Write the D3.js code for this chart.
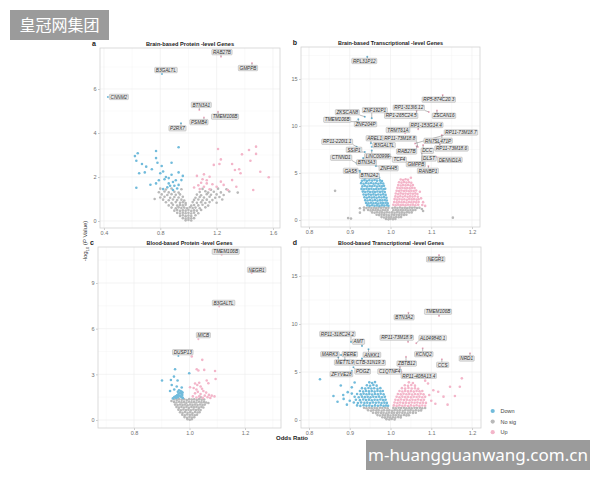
<!DOCTYPE html>
<html>
<head>
<meta charset="utf-8">
<script src="https://cdn.jsdelivr.net/npm/d3@7"></script>
<style>
  body { margin: 0; background: #fff; }
  svg { display: block; font-family: 'Liberation Sans', Arial, sans-serif; }
</style>
</head>
<body>
<div id="viz"></div>
<script>
const width = 600;
const height = 480;
const colorDown = '#71bbdb';
const colorNoSig = '#b9b9b9';
const colorUp = '#f3b5c9';
const dotRadius = 1.3;

// ---------- data : [odds ratio, -log10 p] ----------

// a. Brain-based Protein-level
const downA = [[0.64,3.08],[0.77,3.18],[0.93,3.35],[0.63,2.74],[0.67,2.59],[0.78,2.65],[0.88,2.65],[0.70,2.47],[0.74,2.35],[0.81,2.50],[0.65,2.17],[0.69,2.21],[0.80,2.17],[0.82,2.25],[0.93,2.21],[0.96,2.05],[0.63,1.51],[0.73,1.65],[0.77,1.71],[0.83,1.90],[0.86,1.71],[0.89,1.77],[0.85,1.53],[0.89,1.41],[0.93,1.64],[0.95,1.86],[0.62,2.95],[0.77,2.86],[0.87,1.60],[0.84,2.00],[0.88,2.10],[0.91,1.85],[0.92,1.48],[0.82,1.45],[0.86,1.95],[0.90,1.60],[0.79,1.85]];
const upA = [[1.21,3.27],[1.48,3.38],[1.43,3.23],[1.48,3.05],[1.38,3.03],[1.23,2.80],[1.22,2.59],[1.31,2.59],[1.36,2.35],[1.44,2.74],[1.18,2.55],[1.51,2.24],[1.57,1.99],[1.37,2.17],[1.33,2.32],[1.06,2.05],[1.11,2.12],[1.15,2.01],[1.09,1.74],[1.13,1.71],[1.17,1.67],[1.20,1.56],[1.11,1.56],[1.08,1.45],[1.15,1.44],[1.23,1.79],[1.25,1.64],[1.31,1.86],[1.34,1.56],[1.28,1.41],[1.46,1.41],[1.10,1.90],[1.07,1.62],[1.13,1.85],[1.04,1.52]];
const nosigA = [[0.80,1.47],[0.84,1.43],[0.88,1.48],[0.95,1.44],[1.10,1.46],[1.16,1.42],[1.21,1.47],[1.27,1.44],
  [0.79,1.31],[0.83,1.34],[0.86,1.30],[0.90,1.33],[0.93,1.29],[1.08,1.32],[1.12,1.35],[1.14,1.29],[1.18,1.33],[1.23,1.30],[1.29,1.34],
  [0.81,1.21],[0.85,1.18],[0.88,1.22],[0.91,1.19],[0.94,1.21],[1.06,1.20],[1.09,1.17],[1.13,1.22],[1.16,1.19],[1.20,1.21],[1.25,1.18],
  [0.80,1.07],[0.83,1.10],[0.87,1.06],[0.90,1.09],[0.93,1.07],[0.96,1.10],[1.05,1.06],[1.08,1.09],[1.11,1.07],[1.15,1.10],[1.19,1.06],[1.22,1.09],
  [0.82,0.97],[0.86,0.94],[0.89,0.98],[0.92,0.95],[0.95,0.97],[0.97,0.93],[1.04,0.96],[1.07,0.98],[1.10,0.94],[1.13,0.97],[1.17,0.95],[1.24,0.98],
  [0.84,0.85],[0.88,0.82],[0.91,0.86],[0.94,0.83],[0.96,0.85],[0.98,0.82],[1.03,0.86],[1.06,0.83],[1.09,0.85],[1.12,0.82],[1.15,0.86],[1.20,0.83],
  [0.86,0.71],[0.89,0.74],[0.92,0.70],[0.94,0.73],[0.96,0.71],[0.98,0.74],[1.02,0.70],[1.04,0.73],[1.07,0.71],[1.10,0.74],[1.14,0.70],
  [0.88,0.61],[0.91,0.58],[0.93,0.62],[0.95,0.59],[0.97,0.61],[0.99,0.58],[1.01,0.62],[1.03,0.59],[1.05,0.61],[1.08,0.58],[1.12,0.62],
  [0.90,0.47],[0.92,0.50],[0.94,0.46],[0.96,0.49],[0.98,0.47],[1.00,0.50],[1.02,0.46],[1.04,0.49],[1.06,0.47],[1.09,0.50],
  [0.92,0.37],[0.94,0.34],[0.96,0.38],[0.98,0.35],[1.00,0.37],[1.02,0.34],[1.04,0.38],[1.07,0.35],
  [0.94,0.23],[0.96,0.26],[0.98,0.22],[1.00,0.25],[1.02,0.23],[1.05,0.26],
  [0.96,0.13],[0.98,0.11],[1.00,0.14],[1.02,0.12],[1.04,0.13],
  [0.98,0.03],[1.00,0.05],[1.02,0.02],[1.35,1.29],[0.76,1.00]];
const labelsA = [['RAB27B',1.231,7.47],['GMPPB',1.451,7.18],['B3GALTL',0.812,6.68],['CNNM2',0.428,5.64],['BTN3A1',1.077,5.05],['PSMB4',1.110,4.70],['TMEM106B',1.210,4.97],['P2RX7',0.947,4.44]];

// b. Brain-based Transcriptional-level
const downB = [[0.932,4.52],[0.938,4.45],[0.945,4.55],[0.951,4.47],[0.958,4.53],[0.966,4.44],[0.972,4.50],
  [0.930,4.18],[0.936,4.24],[0.942,4.16],[0.948,4.22],[0.955,4.19],[0.961,4.25],[0.967,4.17],[0.974,4.21],[0.979,4.15],
  [0.928,3.92],[0.934,3.86],[0.940,3.93],[0.946,3.88],[0.952,3.94],[0.958,3.87],[0.964,3.91],[0.970,3.85],[0.976,3.92],[0.982,3.88],
  [0.931,3.58],[0.937,3.63],[0.943,3.57],[0.949,3.62],[0.955,3.59],[0.961,3.64],[0.967,3.56],[0.973,3.61],[0.979,3.58],[0.984,3.63],
  [0.929,3.31],[0.935,3.27],[0.941,3.33],[0.947,3.28],[0.953,3.32],[0.959,3.26],[0.965,3.31],[0.971,3.29],[0.977,3.34],[0.983,3.27],[0.987,3.32],
  [0.932,3.02],[0.938,2.97],[0.944,3.03],[0.950,2.98],[0.956,3.01],[0.962,2.96],[0.968,3.03],[0.974,2.99],[0.980,3.02],[0.986,2.97],
  [0.934,2.71],[0.940,2.67],[0.946,2.73],[0.952,2.68],[0.958,2.72],[0.964,2.66],[0.970,2.71],[0.976,2.69],[0.982,2.73],[0.988,2.67],
  [0.936,2.42],[0.942,2.37],[0.948,2.43],[0.954,2.38],[0.960,2.41],[0.966,2.36],[0.972,2.42],[0.978,2.39],[0.984,2.43],[0.990,2.37],
  [0.938,2.11],[0.944,2.07],[0.950,2.13],[0.956,2.08],[0.962,2.12],[0.968,2.06],[0.974,2.11],[0.980,2.09],[0.986,2.13],[0.991,2.07],
  [0.940,1.82],[0.946,1.77],[0.952,1.83],[0.958,1.78],[0.964,1.81],[0.970,1.76],[0.976,1.82],[0.982,1.79],[0.988,1.83],[0.993,1.77],
  [0.943,1.56],[0.949,1.51],[0.955,1.57],[0.961,1.52],[0.967,1.55],[0.973,1.50],[0.979,1.56],[0.985,1.53],[0.991,1.57],[0.995,1.51],
  [0.940,4.78],[0.953,4.82],[0.961,4.75]];
const upB = [[1.025,4.31],[1.031,4.26],[1.037,4.33],[1.043,4.28],
  [1.021,4.02],[1.027,3.97],[1.033,4.03],[1.039,3.98],[1.045,4.01],[1.051,3.96],
  [1.019,3.71],[1.025,3.67],[1.031,3.73],[1.037,3.68],[1.043,3.72],[1.049,3.66],[1.055,3.71],
  [1.017,3.42],[1.023,3.37],[1.029,3.43],[1.035,3.38],[1.041,3.41],[1.047,3.36],[1.053,3.42],[1.059,3.39],
  [1.015,3.11],[1.021,3.07],[1.027,3.13],[1.033,3.08],[1.039,3.12],[1.045,3.06],[1.051,3.11],[1.057,3.09],[1.063,3.13],
  [1.013,2.82],[1.019,2.77],[1.025,2.83],[1.031,2.78],[1.037,2.81],[1.043,2.76],[1.049,2.82],[1.055,2.79],[1.061,2.83],[1.066,2.77],
  [1.012,2.51],[1.018,2.47],[1.024,2.53],[1.030,2.48],[1.036,2.52],[1.042,2.46],[1.048,2.51],[1.054,2.49],[1.060,2.53],[1.067,2.47],
  [1.010,2.22],[1.016,2.17],[1.022,2.23],[1.028,2.18],[1.034,2.21],[1.040,2.16],[1.046,2.22],[1.052,2.19],[1.058,2.23],[1.064,2.17],[1.069,2.21],
  [1.009,1.91],[1.015,1.87],[1.021,1.93],[1.027,1.88],[1.033,1.92],[1.039,1.86],[1.045,1.91],[1.051,1.89],[1.057,1.93],[1.063,1.87],[1.069,1.92],
  [1.007,1.62],[1.013,1.57],[1.019,1.63],[1.025,1.58],[1.031,1.61],[1.037,1.56],[1.043,1.62],[1.049,1.59],[1.055,1.63],[1.061,1.57],[1.068,1.61],
  [1.075,2.30],[1.080,1.90],[1.072,3.00],[1.078,1.60],[1.050,4.50],[1.085,1.50]];
const nosigB = [[0.935,1.32],[0.941,1.27],[0.947,1.33],[0.953,1.28],[0.959,1.31],[0.965,1.26],[0.971,1.32],[0.977,1.29],[0.983,1.33],[0.989,1.27],[0.995,1.31],[1.005,1.28],[1.011,1.32],[1.017,1.27],[1.023,1.33],[1.029,1.28],[1.035,1.31],[1.041,1.26],[1.047,1.32],[1.053,1.29],[1.059,1.33],[1.065,1.27],[1.071,1.31],
  [0.945,1.06],[0.951,1.02],[0.957,1.07],[0.963,1.03],[0.969,1.06],[0.975,1.01],[0.981,1.07],[0.987,1.04],[0.993,1.06],[1.007,1.03],[1.013,1.07],[1.019,1.02],[1.025,1.06],[1.031,1.03],[1.037,1.07],[1.043,1.01],[1.049,1.06],[1.055,1.04],[1.061,1.07],
  [0.955,0.81],[0.961,0.77],[0.967,0.82],[0.973,0.78],[0.979,0.81],[0.985,0.76],[0.991,0.82],[0.997,0.79],[1.004,0.81],[1.010,0.77],[1.016,0.82],[1.022,0.78],[1.028,0.81],[1.034,0.76],[1.040,0.82],[1.046,0.79],[1.052,0.81],
  [0.966,0.56],[0.972,0.52],[0.978,0.57],[0.984,0.53],[0.990,0.56],[0.996,0.51],[1.003,0.57],[1.009,0.54],[1.015,0.56],[1.021,0.52],[1.027,0.57],[1.033,0.53],[1.039,0.55],
  [0.978,0.31],[0.984,0.27],[0.990,0.32],[0.996,0.28],[1.002,0.31],[1.008,0.27],[1.014,0.32],[1.020,0.29],[1.026,0.31],
  [0.989,0.11],[0.995,0.07],[1.000,0.12],[1.006,0.08],[1.012,0.10],
  [0.864,3.10],[0.896,0.20],[0.903,0.15],[1.153,0.25],[0.925,0.78],[1.077,1.17],[0.925,1.25],[1.080,0.95],[0.935,1.05]];
const labelsB = [['RPL31P12',0.943,17.37],['RP5-874C20.3',1.128,13.30],['RP1-313I6.12',1.094,11.49],['ZSCAN16',1.114,11.65],['RP1-265C24.5',1.064,11.63],['ZKSCAN8',0.937,10.99],['ZNF192P1',0.954,10.82],['TMEM106B',0.917,10.46],['ZNF204P',0.921,10.71],['RP1-153G14.4',1.068,9.65],['TRMT61A',1.036,9.22],['RP11-73M18.7',1.060,8.14],['AREL1',0.952,8.16],['RP11-73M18.8',1.067,7.77],['RN7SL471P',1.126,9.04],['RP11-220I1.1',0.917,7.80],['B3GALTL',0.954,7.80],['SSIP1',0.937,7.23],['RAB27B',1.064,7.87],['DCC',1.080,7.98],['RP11-73M18.6',1.121,8.09],['LINC00999',0.954,7.39],['CTNND1',0.917,6.03],['TCF4',0.991,6.81],['DLST',1.111,6.67],['DENND1A',1.113,6.73],['BTN3A3',0.933,6.60],['GMPPB',1.077,7.16],['ZNF445',0.964,5.74],['GAS5',0.925,5.24],['RANBP1',1.093,5.74],['BTN2A2',0.925,5.11]];

// c. Blood-based Protein-level
const downC = [[0.962,1.95],[0.968,1.90],[0.972,1.85],[0.975,1.80],[0.958,1.85],[0.965,1.78],[0.970,1.72],[0.974,1.65],[0.960,1.70],[0.955,1.62],[0.963,1.60],[0.968,1.55],[0.950,1.55],[0.958,1.50],[0.945,1.50],[0.952,1.45],[0.940,1.42],[0.972,1.50],[0.976,1.45],
  [0.901,2.59],[0.933,2.63],[0.957,2.59],[0.936,2.30],[0.954,2.20],[0.948,3.33],[0.972,2.13],[0.930,1.90],[0.945,2.00],[0.999,3.07],[0.944,2.85]];
const upC = [[1.020,2.40],[1.028,2.30],[1.035,2.45],[1.040,2.20],[1.015,2.10],[1.025,2.00],[1.045,2.05],[1.050,1.90],[1.030,1.85],[1.060,1.80],[1.020,1.75],[1.040,1.70],[1.070,1.65],[1.055,1.60],[1.080,1.60],[1.012,1.55],[1.035,1.55],[1.065,1.50],[1.090,1.55],[1.025,1.48],[1.048,1.45],[1.075,1.45],
  [1.008,4.17],[1.046,3.95],[1.026,3.33],[1.032,3.25],[1.053,3.29],[1.092,3.22],[1.094,2.69],[1.062,2.59],[1.068,2.41],[1.002,2.15]];
const nosigC = [[0.945,1.36],[0.954,1.32],[0.963,1.37],[0.972,1.33],[0.981,1.36],[0.990,1.31],[0.999,1.37],[1.008,1.34],[1.017,1.36],[1.026,1.32],[1.035,1.37],[1.044,1.33],[1.053,1.35],
  [0.944,1.19],[0.953,1.15],[0.962,1.20],[0.971,1.16],[0.980,1.19],[0.989,1.14],[0.998,1.20],[1.007,1.17],[1.016,1.19],[1.025,1.15],[1.034,1.20],[1.043,1.16],[1.052,1.19],[1.060,1.15],
  [0.948,1.01],[0.957,0.98],[0.966,1.02],[0.975,0.99],[0.984,1.01],[0.993,0.97],[1.002,1.02],[1.011,0.99],[1.020,1.01],[1.029,0.98],[1.038,1.02],[1.047,0.99],[1.055,1.01],
  [0.953,0.85],[0.962,0.81],[0.971,0.86],[0.980,0.82],[0.989,0.85],[0.998,0.80],[1.007,0.86],[1.016,0.83],[1.025,0.85],[1.034,0.81],[1.043,0.86],[1.050,0.82],
  [0.960,0.68],[0.969,0.64],[0.978,0.69],[0.987,0.65],[0.996,0.68],[1.005,0.63],[1.014,0.69],[1.023,0.66],[1.032,0.68],[1.040,0.65],
  [0.966,0.51],[0.975,0.47],[0.984,0.52],[0.993,0.48],[1.002,0.51],[1.011,0.46],[1.020,0.52],[1.029,0.49],[1.036,0.51],
  [0.974,0.35],[0.983,0.31],[0.992,0.36],[1.001,0.32],[1.010,0.35],[1.019,0.31],[1.027,0.34],
  [0.982,0.19],[0.991,0.15],[1.000,0.20],[1.009,0.16],[1.017,0.18],
  [0.993,0.05],[1.001,0.02],[1.008,0.05],[0.935,1.25],[1.068,1.12],[0.958,1.48],[1.040,1.50]];
const labelsC = [['TMEM106B',1.116,10.86],['NEGR1',1.224,9.65],['B3GALTL',1.107,7.45],['MICB',1.032,5.31],['DUSP13',0.960,4.21]];

// d. Blood-based Transcriptional-level
const downD = [[0.948,3.92],[0.955,3.85],[0.962,3.95],
  [0.942,3.62],[0.950,3.57],[0.958,3.64],[0.966,3.58],
  [0.930,3.32],[0.938,3.27],[0.946,3.33],[0.953,3.28],[0.960,3.31],[0.968,3.26],[0.975,3.32],
  [0.925,3.02],[0.933,2.97],[0.940,3.03],[0.947,2.98],[0.954,3.01],[0.961,2.96],[0.968,3.03],[0.975,2.99],[0.981,3.02],
  [0.918,2.71],[0.927,2.67],[0.934,2.73],[0.941,2.68],[0.948,2.72],[0.955,2.66],[0.962,2.71],[0.969,2.69],[0.976,2.73],[0.983,2.67],
  [0.912,2.42],[0.922,2.37],[0.930,2.43],[0.937,2.38],[0.944,2.41],[0.951,2.36],[0.958,2.42],[0.965,2.39],[0.972,2.43],[0.979,2.37],[0.986,2.41],
  [0.915,2.11],[0.925,2.07],[0.933,2.13],[0.940,2.08],[0.947,2.12],[0.954,2.06],[0.961,2.11],[0.968,2.09],[0.975,2.13],[0.982,2.07],[0.988,2.11],
  [0.910,1.82],[0.920,1.77],[0.928,1.83],[0.936,1.78],[0.943,1.81],[0.950,1.76],[0.957,1.82],[0.964,1.79],[0.971,1.83],[0.978,1.77],[0.985,1.81],[0.991,1.78],
  [0.918,1.52],[0.926,1.47],[0.934,1.53],[0.941,1.48],[0.948,1.51],[0.955,1.46],[0.962,1.52],[0.969,1.49],[0.976,1.53],[0.983,1.47],[0.989,1.51],[0.994,1.48],
  [0.895,2.90],[0.885,2.20],[0.878,3.60],[0.884,2.60],[0.905,3.40],[0.870,1.90],[0.893,1.60],[0.900,2.00],[0.827,4.24],[0.912,3.90],[0.860,2.50],[0.905,2.75]];
const upD = [[1.045,3.92],[1.055,3.86],
  [1.035,3.62],[1.043,3.57],[1.051,3.64],[1.060,3.58],
  [1.028,3.32],[1.036,3.27],[1.044,3.33],[1.052,3.28],[1.060,3.31],[1.068,3.26],
  [1.022,3.02],[1.029,2.97],[1.036,3.03],[1.043,2.98],[1.050,3.01],[1.057,2.96],[1.064,3.03],[1.071,2.99],[1.078,3.02],
  [1.018,2.71],[1.025,2.67],[1.032,2.73],[1.039,2.68],[1.046,2.72],[1.053,2.66],[1.060,2.71],[1.067,2.69],[1.074,2.73],[1.081,2.67],
  [1.015,2.42],[1.022,2.37],[1.029,2.43],[1.036,2.38],[1.043,2.41],[1.050,2.36],[1.057,2.42],[1.064,2.39],[1.071,2.43],[1.078,2.37],[1.085,2.41],
  [1.012,2.11],[1.019,2.07],[1.026,2.13],[1.033,2.08],[1.040,2.12],[1.047,2.06],[1.054,2.11],[1.061,2.09],[1.068,2.13],[1.075,2.07],[1.082,2.11],
  [1.010,1.82],[1.017,1.77],[1.024,1.83],[1.031,1.78],[1.038,1.81],[1.045,1.76],[1.052,1.82],[1.059,1.79],[1.066,1.83],[1.073,1.77],[1.080,1.81],[1.087,1.78],
  [1.008,1.52],[1.015,1.47],[1.022,1.53],[1.029,1.48],[1.036,1.51],[1.043,1.46],[1.050,1.52],[1.057,1.49],[1.064,1.53],[1.071,1.47],[1.078,1.51],[1.085,1.48],
  [1.095,2.60],[1.100,2.00],[1.105,3.10],[1.117,2.95],[1.130,2.43],[1.146,3.47],[1.158,2.50],[1.170,3.47],[1.175,4.34],[1.092,3.80],[1.110,1.70],[1.140,1.60],[1.085,4.10]];
const nosigD = [[0.935,1.27],[0.941,1.22],[0.948,1.28],[0.954,1.23],[0.961,1.26],[0.967,1.21],[0.974,1.27],[0.980,1.24],[0.987,1.28],[0.993,1.22],[1.007,1.26],[1.013,1.21],[1.020,1.27],[1.026,1.24],[1.033,1.28],[1.039,1.22],[1.046,1.26],[1.052,1.21],[1.059,1.27],[1.065,1.24],[1.072,1.28],[1.078,1.22],[1.085,1.25],
  [0.945,1.01],[0.952,0.97],[0.958,1.02],[0.965,0.98],[0.971,1.01],[0.978,0.96],[0.984,1.02],[0.991,0.99],[0.997,1.01],[1.004,0.97],[1.010,1.02],[1.017,0.98],[1.023,1.01],[1.030,0.96],[1.036,1.02],[1.043,0.99],[1.049,1.01],[1.056,0.97],[1.062,1.02],[1.069,0.98],[1.075,1.00],
  [0.957,0.76],[0.964,0.72],[0.970,0.77],[0.977,0.73],[0.983,0.76],[0.990,0.71],[0.996,0.77],[1.003,0.74],[1.009,0.76],[1.016,0.72],[1.022,0.77],[1.029,0.73],[1.035,0.76],[1.042,0.71],[1.048,0.77],[1.055,0.74],[1.062,0.75],
  [0.968,0.51],[0.974,0.47],[0.981,0.52],[0.987,0.48],[0.994,0.51],[1.000,0.46],[1.007,0.52],[1.013,0.49],[1.020,0.51],[1.026,0.47],[1.033,0.52],[1.039,0.48],[1.045,0.50],
  [0.980,0.29],[0.986,0.25],[0.993,0.30],[0.999,0.26],[1.006,0.29],[1.012,0.25],[1.019,0.30],[1.025,0.27],
  [0.990,0.09],[0.997,0.05],[1.003,0.10],[1.010,0.06]];
const labelsD = [['NEGR1',1.119,17.19],['TMEM106B',1.119,10.83],['BTN3A2',1.044,11.18],['RP11-318C24.2',0.903,8.13],['AMT',0.930,7.71],['RP11-73M18.9',1.043,8.13],['AL049840.1',1.063,7.99],['MARK3',0.879,6.77],['RERE',0.888,6.25],['ANKK1',0.946,7.36],['KCNQ2',1.079,7.47],['NRD1',1.195,6.95],['METTL9',0.872,6.53],['CTB-31N19.3',0.930,6.41],['ZBTB12',1.038,6.59],['CCS',1.126,6.32],['POGZ',0.909,5.49],['C1QTNF4',1.023,5.55],['ZFYVE28',0.905,5.14],['RP11-408A13.4',1.027,5.03]];

// label box offsets from their point (px), the way ggrepel placed them
const nudgeA = {RAB27B:[1,-4.5], GMPPB:[-4,5], B3GALTL:[4,-4], CNNM2:[11,0], BTN3A1:[2,-5], PSMB4:[-5,4.5], TMEM106B:[7,5], P2RX7:[-3.5,5]};
const nudgeB = {'RPL31P12':[-3,4.3], 'RP5-874C20.3':[-3.9,4.7], 'RP1-313I6.12':[-20,-4.3], 'ZSCAN16':[7,5.3], 'RP1-265C24.5':[-15.4,5.1],
  'ZKSCAN8':[-17.5,-4.4], 'ZNF192P1':[3.1,-8.1], 'TMEM106B':[-19.5,-1.9], 'ZNF204P':[7.2,4.9], 'RP1-153G14.4':[8,-4.3],
  'TRMT61A':[-7.2,-3.3], 'RP11-73M18.7':[46,-11], 'AREL1':[3.7,-5], 'RP11-73M18.8':[-18,-8.5], 'RN7SL471P':[-3.7,5.8],
  'RP11-220I1.1':[-19.5,-4.9], 'B3GALTL':[12.3,-1.5], 'SSIP1':[-10.8,-2.2], 'RAB27B':[-10,5.5], 'DCC':[4.2,5.8],
  'RP11-73M18.6':[11.7,4.5], 'LINC00999':[5.8,5.8], 'CTNND1':[-15.5,-5.6], 'TCF4':[12.5,3.7], 'DLST':[-6.7,1.2],
  'DENND1A':[13.3,3.1], 'BTN3A3':[3.3,4.5], 'GMPPB':[-6,11.5], 'ZNF445':[12.8,2.2], 'GAS5':[-9.2,0.1],
  'RANBP1':[-0.5,4.8], 'BTN2A2':[9.5,3.8]};
const nudgeC = {TMEM106B:[4,-3], NEGR1:[5,-3.3], B3GALTL:[4.4,-3.7], MICB:[5,-4], DUSP13:[4.4,-3.7]};
const nudgeD = {'NEGR1':[-3.3,4.3], 'TMEM106B':[-1,-4.3], 'BTN3A2':[-4.3,4.6], 'RP11-318C24.2':[-13.5,-8], 'AMT':[-3.5,-4.3],
  'RP11-73M18.9':[-11.3,-4.3], 'AL049840.1':[16.5,-5.3], 'MARK3':[-11.3,-0.8], 'RERE':[5,-5.8], 'ANKK1':[3.4,5.5],
  'KCNQ2':[1.1,5.9], 'NRD1':[-3.3,5.2], 'METTL9':[6.2,5.2], 'CTB-31N19.3':[8,4.3], 'ZBTB12':[0.7,6.8],
  'CCS':[0.8,5.5], 'POGZ':[9.2,4.2], 'C1QTNF4':[-10.3,4.8], 'ZFYVE28':[-10.4,3.5], 'RP11-408A13.4':[17.3,4.1]};

const legendItems = ['Down', 'No sig', 'Up'];
const legendColors = [colorDown, colorNoSig, colorUp];

const panels = [
  {id: 'a', title: 'Brain-based Protein -level Genes', titleLen: 88, box: [100, 48, 280, 228],
   xDomain: [0.372, 1.650], yDomain: [-0.318, 7.864], xTicks: [0.4, 0.8, 1.2, 1.6], yTicks: [0, 2, 4, 6],
   down: downA, nosig: nosigA, up: upA, labels: labelsA, nudge: nudgeA},
  {id: 'b', title: 'Brain-based Transcriptional -level Genes', titleLen: 105, box: [301, 47, 480, 227],
   xDomain: [0.7804, 1.2196], yDomain: [-0.745, 18.40], xTicks: [0.8, 0.9, 1.0, 1.1, 1.2], yTicks: [0, 5, 10, 15],
   down: downB, nosig: nosigB, up: upB, labels: labelsB, nudge: nudgeB},
  {id: 'c', title: 'Blood-based Protein -level Genes', titleLen: 86, box: [98, 247, 281, 428],
   xDomain: [0.6703, 1.3297], yDomain: [-0.526, 11.365], xTicks: [0.8, 1.0, 1.2], yTicks: [0, 3, 6, 9],
   down: downC, nosig: nosigC, up: upC, labels: labelsC, nudge: nudgeC},
  {id: 'd', title: 'Blood-based Transcriptional -level Genes', titleLen: 106, box: [301, 247, 481, 428],
   xDomain: [0.7804, 1.222], yDomain: [-0.833, 18.02], xTicks: [0.8, 0.9, 1.0, 1.1, 1.2], yTicks: [0, 5, 10, 15],
   down: downD, nosig: nosigD, up: upD, labels: labelsD, nudge: nudgeD}
];

const svg = d3.select('#viz')
  .append('svg')
    .attr('width', width)
    .attr('height', height)
    .attr('viewBox', [0, 0, width, height]);

svg.append('rect')
    .attr('width', width)
    .attr('height', height)
    .attr('fill', '#fff');

const minorOf = (ticks, domain) => {
  const step = ticks[1] - ticks[0];
  return d3.range(ticks[0] - step / 2, domain[1], step).filter(v => v > domain[0]);
};

const drawPanel = (p) => {
  const [x0, y0, x1, y1] = p.box;
  const xScale = d3.scaleLinear().domain(p.xDomain).range([x0, x1]);
  const yScale = d3.scaleLinear().domain(p.yDomain).range([y1, y0]);
  const g = svg.append('g').attr('class', `panel panel-${p.id}`);

  // grid
  g.append('g')
    .selectAll('line')
    .data(minorOf(p.xTicks, p.xDomain))
    .join('line')
      .attr('x1', d => xScale(d)).attr('x2', d => xScale(d))
      .attr('y1', y0).attr('y2', y1)
      .attr('stroke', '#f5f5f5').attr('stroke-width', 0.5);
  g.append('g')
    .selectAll('line')
    .data(minorOf(p.yTicks, p.yDomain))
    .join('line')
      .attr('x1', x0).attr('x2', x1)
      .attr('y1', d => yScale(d)).attr('y2', d => yScale(d))
      .attr('stroke', '#f5f5f5').attr('stroke-width', 0.5);
  g.append('g')
    .selectAll('line')
    .data(p.xTicks)
    .join('line')
      .attr('x1', d => xScale(d)).attr('x2', d => xScale(d))
      .attr('y1', y0).attr('y2', y1)
      .attr('stroke', '#ececec').attr('stroke-width', 0.6);
  g.append('g')
    .selectAll('line')
    .data(p.yTicks)
    .join('line')
      .attr('x1', x0).attr('x2', x1)
      .attr('y1', d => yScale(d)).attr('y2', d => yScale(d))
      .attr('stroke', '#ececec').attr('stroke-width', 0.6);

  // axes
  const xAxis = d3.axisBottom(xScale).tickValues(p.xTicks).tickFormat(d3.format('.1f')).tickSize(2).tickPadding(1.5);
  const yAxis = d3.axisLeft(yScale).tickValues(p.yTicks).tickFormat(d3.format('d')).tickSize(2).tickPadding(1.5);
  [g.append('g').attr('transform', `translate(0, ${y1})`).call(xAxis),
   g.append('g').attr('transform', `translate(${x0}, 0)`).call(yAxis)].forEach(ax => {
    ax.select('.domain').remove();
    ax.selectAll('line').attr('stroke', '#9a9a9a').attr('stroke-width', 0.5);
    ax.selectAll('text')
      .attr('fill', '#707070')
      .style('font-size', '5.5px')
      .style('font-family', "'Liberation Sans', Arial, sans-serif");
  });

  // points
  const groups = [
    {cls: 'nosig', data: p.nosig, color: colorNoSig},
    {cls: 'down', data: p.down, color: colorDown},
    {cls: 'up', data: p.up, color: colorUp}
  ];
  groups.forEach(grp => {
    g.append('g')
        .attr('class', `dots dots-${grp.cls}`)
      .selectAll('circle')
      .data(grp.data)
      .join('circle')
        .attr('cx', d => xScale(d[0]))
        .attr('cy', d => yScale(d[1]))
        .attr('r', dotRadius)
        .attr('fill', grp.color);
  });

  // labelled genes
  const lab = g.append('g').attr('class', 'gene-labels');
  lab.selectAll('circle')
    .data(p.labels)
    .join('circle')
      .attr('cx', d => xScale(d[1]))
      .attr('cy', d => yScale(d[2]))
      .attr('r', 1)
      .attr('fill', d => d[1] < 1 ? colorDown : colorUp);

  p.labels.forEach(d => {
    const px = xScale(d[1]);
    const py = yScale(d[2]);
    const [dx, dy] = p.nudge[d[0]] || [0, -5];
    const cx = px + dx;
    const cy = py + dy;
    const lg = lab.append('g');
    const seg = lg.append('line');
    const rect = lg.append('rect');
    const txt = lg.append('text')
        .attr('x', cx)
        .attr('y', cy + 1.7)
        .attr('text-anchor', 'middle')
        .attr('fill', '#333')
        .style('font-size', '4.7px')
        .style('font-style', 'italic')
        .text(d[0]);
    const w = txt.node().getComputedTextLength() + 2.4;
    const h = 5.4;
    const bx0 = cx - w / 2, by0 = cy - h / 2;
    rect
        .attr('x', bx0).attr('y', by0)
        .attr('width', w).attr('height', h)
        .attr('rx', 0.8)
        .attr('fill', '#e6e6e6')
        .attr('stroke', '#8f8f8f')
        .attr('stroke-width', 0.35);
    const ex = Math.max(bx0, Math.min(px, bx0 + w));
    const ey = Math.max(by0, Math.min(py, by0 + h));
    if (Math.hypot(ex - px, ey - py) > 1.5) {
      seg
          .attr('x1', px).attr('y1', py)
          .attr('x2', ex).attr('y2', ey)
          .attr('stroke', '#555')
          .attr('stroke-width', 0.4);
    } else {
      seg.remove();
    }
  });

  // frame
  g.append('rect')
      .attr('x', x0).attr('y', y0)
      .attr('width', x1 - x0).attr('height', y1 - y0)
      .attr('fill', 'none')
      .attr('stroke', '#d2d2d2')
      .attr('stroke-width', 0.8);

  // title + letter
  g.append('text')
      .attr('x', (x0 + x1) / 2)
      .attr('y', y0 - 2.5)
      .attr('text-anchor', 'middle')
      .attr('textLength', p.titleLen)
      .attr('lengthAdjust', 'spacingAndGlyphs')
      .attr('fill', '#222')
      .style('font-size', '6px')
      .style('font-weight', 'bold')
      .text(p.title);
  g.append('text')
      .attr('x', x0 - 6)
      .attr('y', y0 - 2.5)
      .attr('text-anchor', 'middle')
      .attr('fill', '#222')
      .style('font-size', '7px')
      .style('font-weight', 'bold')
      .text(p.id);
};

panels.forEach(drawPanel);

// shared axis titles
const yTitle = svg.append('text')
    .attr('transform', 'translate(87, 241) rotate(-90)')
    .attr('text-anchor', 'middle')
    .attr('fill', '#333')
    .style('font-size', '6px');
yTitle.append('tspan').text('-log');
yTitle.append('tspan').attr('dy', 1.5).style('font-size', '4px').text('10');
yTitle.append('tspan').attr('dy', -1.5).text(' (');
yTitle.append('tspan').style('font-style', 'italic').text('P');
yTitle.append('tspan').text(' Value)');

svg.append('text')
    .attr('x', 292)
    .attr('y', 440)
    .attr('text-anchor', 'middle')
    .attr('fill', '#222')
    .style('font-size', '6px')
    .style('font-weight', 'bold')
    .text('Odds Ratio');

// legend
const legend = svg.append('g').attr('class', 'legend');
legend.selectAll('circle')
  .data(legendItems)
  .join('circle')
    .attr('cx', 492.7)
    .attr('cy', (d, i) => 411 + i * 10.6)
    .attr('r', 2.1)
    .attr('fill', (d, i) => legendColors[i]);
legend.selectAll('text')
  .data(legendItems)
  .join('text')
    .attr('x', 500.5)
    .attr('y', (d, i) => 413 + i * 10.6)
    .attr('fill', '#444')
    .style('font-size', '5.5px')
    .text(d => d);

// watermarks on the source image
svg.append('rect')
    .attr('x', 10).attr('y', 10)
    .attr('width', 99).attr('height', 30)
    .attr('fill', '#9b9b9b');
svg.append('text')
    .attr('x', 59.5).attr('y', 31)
    .attr('text-anchor', 'middle')
    .attr('fill', '#fff')
    .style('font-family', "'Noto Sans CJK SC', sans-serif")
    .style('font-size', '16px')
    .text('皇冠网集团');
svg.append('rect')
    .attr('x', 366).attr('y', 440)
    .attr('width', 224).attr('height', 30)
    .attr('fill', '#9b9b9b');
svg.append('text')
    .attr('x', 478).attr('y', 461)
    .attr('text-anchor', 'middle')
    .attr('fill', '#fff')
    .style('font-family', "'Noto Sans', sans-serif")
    .style('font-size', '17px')
    .text('m-huangguanwang.com.cn');
</script>
</body>
</html>
